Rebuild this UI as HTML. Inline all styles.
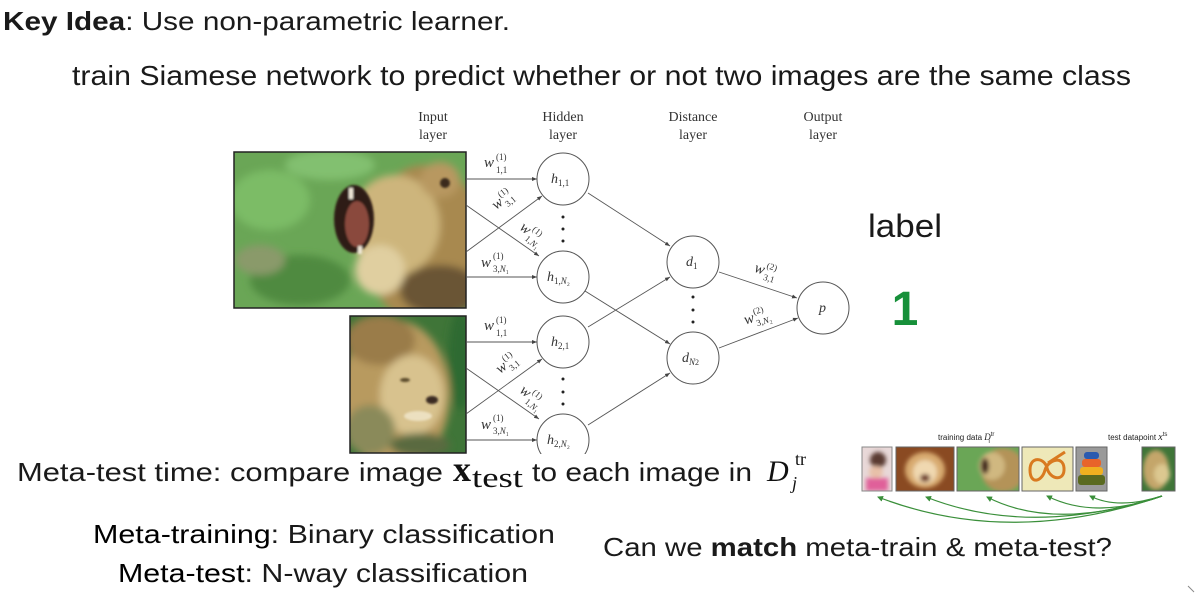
<!DOCTYPE html>
<html><head><meta charset="utf-8"><style>
html,body{margin:0;padding:0;background:#fff;}
svg{display:block;}
.s{font-family:"Liberation Sans",sans-serif;fill:#1a1a1a;}
.m{font-family:"Liberation Serif",serif;fill:#333;}
.mi{font-family:"Liberation Serif",serif;font-style:italic;fill:#333;}
</style></head><body>
<svg width="1198" height="593" viewBox="0 0 1198 593" xmlns="http://www.w3.org/2000/svg">
<defs>
<marker id="a" markerWidth="6" markerHeight="6" refX="5" refY="3" orient="auto" markerUnits="userSpaceOnUse"><path d="M0,1 L5,3 L0,5 z" fill="#444"/></marker>
<marker id="g" markerWidth="7" markerHeight="7" refX="5" refY="3.5" orient="auto" markerUnits="userSpaceOnUse"><path d="M0,0.5 L6,3.5 L0,6.5 z" fill="#3a8f3a"/></marker>
<filter id="b4"><feGaussianBlur stdDeviation="4"/></filter>
<filter id="b2"><feGaussianBlur stdDeviation="2"/></filter>
<filter id="b1"><feGaussianBlur stdDeviation="1"/></filter>
<clipPath id="c1"><rect x="234" y="152" width="232" height="156"/></clipPath>
<clipPath id="c2"><rect x="350" y="316" width="116" height="137"/></clipPath>
<clipPath id="t1"><rect x="862" y="447" width="30" height="44"/></clipPath>
<clipPath id="t2"><rect x="896" y="447" width="58" height="44"/></clipPath>
<clipPath id="t3"><rect x="957" y="447" width="62" height="44"/></clipPath>
<clipPath id="t5"><rect x="1076" y="447" width="31" height="44"/></clipPath>
<clipPath id="t6"><rect x="1142" y="447" width="33" height="44"/></clipPath>
</defs>

<!-- Top text -->
<text class="s" x="3" y="30" font-size="26" textLength="507" lengthAdjust="spacingAndGlyphs"><tspan font-weight="bold">Key Idea</tspan>: Use non-parametric learner.</text>
<text class="s" x="72" y="85" font-size="28" textLength="1059" lengthAdjust="spacingAndGlyphs">train Siamese network to predict whether or not two images are the same class</text>

<!-- Layer labels -->
<g class="m" font-size="14" text-anchor="middle" fill="#444">
<text x="433" y="121">Input</text><text x="433" y="139">layer</text>
<text x="563" y="121">Hidden</text><text x="563" y="139">layer</text>
<text x="693" y="121">Distance</text><text x="693" y="139">layer</text>
<text x="823" y="121">Output</text><text x="823" y="139">layer</text>
</g>

<!-- Lion image 1 -->
<g clip-path="url(#c1)">
<rect x="234" y="152" width="232" height="156" fill="#6aa656"/>
<g filter="url(#b4)">
<ellipse cx="270" cy="200" rx="40" ry="30" fill="#7cbc66"/>
<ellipse cx="300" cy="280" rx="50" ry="25" fill="#4f8a40"/>
<ellipse cx="260" cy="260" rx="25" ry="15" fill="#8a9a6a"/>
<ellipse cx="330" cy="165" rx="45" ry="15" fill="#82c070"/>
<ellipse cx="425" cy="245" rx="60" ry="80" fill="#a8894f"/>
<ellipse cx="395" cy="225" rx="45" ry="50" fill="#cdb57c"/>
<ellipse cx="440" cy="180" rx="20" ry="18" fill="#b89860"/>
<ellipse cx="440" cy="290" rx="40" ry="25" fill="#6a5535"/>
<ellipse cx="380" cy="270" rx="25" ry="25" fill="#e0cfa0"/>
</g>
<g filter="url(#b1)">
<ellipse cx="354" cy="219" rx="20" ry="34" fill="#2e1a14"/>
<ellipse cx="357" cy="224" rx="12" ry="23" fill="#8a4a3e"/>
<ellipse cx="445" cy="183" rx="5" ry="5" fill="#3a2a1a"/>
<rect x="349" y="188" width="4" height="11" fill="#f0e8d8"/>
<rect x="358" y="246" width="4" height="8" fill="#f0e8d8"/>
</g>
</g>
<rect x="234" y="152" width="232" height="156" fill="none" stroke="#222" stroke-width="1.5"/>

<!-- Lion image 2 -->
<g clip-path="url(#c2)">
<rect x="350" y="316" width="116" height="137" fill="#3f7538"/>
<g filter="url(#b4)">
<ellipse cx="395" cy="395" rx="55" ry="75" fill="#b89a5e"/>
<ellipse cx="380" cy="340" rx="35" ry="25" fill="#9a7c48"/>
<ellipse cx="412" cy="395" rx="32" ry="40" fill="#d8c28e"/>
<ellipse cx="370" cy="430" rx="25" ry="25" fill="#8a8a5a"/>
<ellipse cx="460" cy="360" rx="12" ry="50" fill="#2f6a30"/>
<ellipse cx="420" cy="445" rx="30" ry="12" fill="#5a6a40"/>
</g>
<g filter="url(#b1)">
<ellipse cx="432" cy="400" rx="6" ry="4" fill="#3a2a20"/>
<ellipse cx="418" cy="416" rx="14" ry="5" fill="#ece0c0"/>
<ellipse cx="405" cy="380" rx="5" ry="2" fill="#5a4a2a"/>
</g>
</g>
<rect x="350" y="316" width="116" height="137" fill="none" stroke="#222" stroke-width="1.5"/>

<!-- Edges -->
<g stroke="#555" stroke-width="0.9" fill="none" marker-end="url(#a)">
<line x1="466" y1="179" x2="537" y2="179"/>
<line x1="466" y1="205" x2="539" y2="256"/>
<line x1="466" y1="252" x2="542" y2="196"/>
<line x1="466" y1="277" x2="537" y2="277"/>
<line x1="466" y1="342" x2="537" y2="342"/>
<line x1="466" y1="368" x2="539" y2="419"/>
<line x1="466" y1="414" x2="542" y2="359"/>
<line x1="466" y1="440" x2="537" y2="440"/>
<line x1="588" y1="193" x2="670" y2="246"/>
<line x1="585" y1="291" x2="670" y2="344"/>
<line x1="588" y1="327" x2="670" y2="277"/>
<line x1="588" y1="425" x2="670" y2="373"/>
<line x1="719" y1="272" x2="797" y2="298"/>
<line x1="719" y1="348" x2="798" y2="318"/>
</g>

<!-- Nodes -->
<g fill="#fff" stroke="#555" stroke-width="1">
<circle cx="563" cy="179" r="26"/>
<circle cx="563" cy="277" r="26"/>
<circle cx="563" cy="342" r="26"/>
<circle cx="563" cy="440" r="26"/>
<circle cx="693" cy="262" r="26"/>
<circle cx="693" cy="358" r="26"/>
<circle cx="823" cy="308" r="26"/>
</g>
<rect x="530" y="454" width="70" height="15" fill="#fff"/>

<!-- Node labels -->
<g class="mi" font-size="14">
<text x="551" y="183">h<tspan font-style="normal" font-size="9" dy="3">1,1</tspan></text>
<text x="547" y="281">h<tspan font-style="normal" font-size="9" dy="3">1,<tspan font-style="italic">N</tspan>₂</tspan></text>
<text x="551" y="346">h<tspan font-style="normal" font-size="9" dy="3">2,1</tspan></text>
<text x="547" y="444">h<tspan font-style="normal" font-size="9" dy="3">2,<tspan font-style="italic">N</tspan>₂</tspan></text>
<text x="686" y="266">d<tspan font-style="normal" font-size="9" dy="3">1</tspan></text>
<text x="682" y="362">d<tspan font-size="9" dy="3">N</tspan><tspan font-style="normal" font-size="8">2</tspan></text>
<text x="819" y="312">p</text>
</g>

<!-- Dots -->
<g fill="#222">
<circle cx="563" cy="217" r="1.5"/><circle cx="563" cy="229" r="1.5"/><circle cx="563" cy="241" r="1.5"/>
<circle cx="693" cy="297" r="1.5"/><circle cx="693" cy="310" r="1.5"/><circle cx="693" cy="322" r="1.5"/>
<circle cx="563" cy="379" r="1.5"/><circle cx="563" cy="392" r="1.5"/><circle cx="563" cy="404" r="1.5"/>
</g>

<!-- Weight labels -->
<g class="mi" font-size="15">
<text x="484" y="167">w<tspan font-style="normal" font-size="9" x="496" y="160">(1)</tspan><tspan font-style="normal" font-size="9" x="496" y="173">1,1</tspan></text>
<text x="481" y="267">w<tspan font-style="normal" font-size="9" x="493" y="259">(1)</tspan><tspan font-style="normal" font-size="9" x="493" y="272">3,<tspan font-style="italic">N</tspan>₁</tspan></text>
<text x="484" y="330">w<tspan font-style="normal" font-size="9" x="496" y="323">(1)</tspan><tspan font-style="normal" font-size="9" x="496" y="336">1,1</tspan></text>
<text x="481" y="429">w<tspan font-style="normal" font-size="9" x="493" y="421">(1)</tspan><tspan font-style="normal" font-size="9" x="493" y="434">3,<tspan font-style="italic">N</tspan>₁</tspan></text>
<g transform="translate(503,201) rotate(-38)"><text x="-11" y="3">w<tspan font-style="normal" font-size="9" x="0" y="-4">(1)</tspan><tspan font-style="normal" font-size="9" x="0" y="8">3,1</tspan></text></g>
<g transform="translate(530,234) rotate(40)"><text x="-12" y="3">w<tspan font-style="normal" font-size="9" x="-1" y="-4">(1)</tspan><tspan font-style="normal" font-size="9" x="-1" y="8">1,<tspan font-style="italic">N</tspan>₁</tspan></text></g>
<g transform="translate(507,365) rotate(-38)"><text x="-11" y="3">w<tspan font-style="normal" font-size="9" x="0" y="-4">(1)</tspan><tspan font-style="normal" font-size="9" x="0" y="8">3,1</tspan></text></g>
<g transform="translate(530,397) rotate(40)"><text x="-12" y="3">w<tspan font-style="normal" font-size="9" x="-1" y="-4">(1)</tspan><tspan font-style="normal" font-size="9" x="-1" y="8">1,<tspan font-style="italic">N</tspan>₁</tspan></text></g>
<g transform="translate(765,272) rotate(17)"><text x="-11" y="3">w<tspan font-style="normal" font-size="9" x="0" y="-4">(2)</tspan><tspan font-style="normal" font-size="9" x="0" y="8">3,1</tspan></text></g>
<g transform="translate(757,318) rotate(-17)"><text x="-13" y="3">w<tspan font-style="normal" font-size="9" x="-2" y="-4">(2)</tspan><tspan font-style="normal" font-size="9" x="-2" y="8">3,<tspan font-style="italic">N</tspan>₂</tspan></text></g>
</g>

<!-- label / 1 -->
<text class="s" x="868" y="237" font-size="32" textLength="74" lengthAdjust="spacingAndGlyphs">label</text>
<text x="905" y="325" font-family="Liberation Sans, sans-serif" font-weight="bold" font-size="48" fill="#17903a" text-anchor="middle">1</text>

<!-- Meta-test time line -->
<text class="s" x="17" y="481" font-size="26" textLength="426" lengthAdjust="spacingAndGlyphs">Meta-test time: compare image</text>
<text x="453" y="481" font-family="Liberation Serif, serif" font-weight="bold" font-size="36" fill="#111">x</text>
<text x="472" y="487" font-family="Liberation Serif, serif" font-size="28" fill="#111" textLength="51" lengthAdjust="spacingAndGlyphs">test</text>
<text class="s" x="532" y="481" font-size="26" textLength="220" lengthAdjust="spacingAndGlyphs">to each image in</text>
<text x="767" y="481" font-family="Liberation Serif, serif" font-style="italic" font-size="30" fill="#111">D</text>
<text x="795" y="465" font-family="Liberation Serif, serif" font-size="18" fill="#111">tr</text>
<text x="792" y="489" font-family="Liberation Serif, serif" font-style="italic" font-size="18" fill="#111">j</text>

<text class="s" x="93" y="543" font-size="26" textLength="462" lengthAdjust="spacingAndGlyphs"><tspan fill="#000">Meta-training</tspan>: Binary classification</text>
<text class="s" x="118" y="582" font-size="26" textLength="410" lengthAdjust="spacingAndGlyphs"><tspan fill="#000">Meta-test</tspan>: N-way classification</text>
<text class="s" x="603" y="556" font-size="26" textLength="509" lengthAdjust="spacingAndGlyphs">Can we <tspan font-weight="bold">match</tspan> meta-train &amp; meta-test?</text>

<!-- Thumbnails -->
<text x="938" y="440" font-family="Liberation Sans, sans-serif" font-size="8" fill="#222">training data <tspan font-family="Liberation Serif, serif" font-style="italic" font-size="9">D</tspan><tspan font-size="6" dy="-4">tr</tspan><tspan font-size="6" dy="7" dx="-6">i</tspan></text>
<text x="1108" y="440" font-family="Liberation Sans, sans-serif" font-size="8" fill="#222">test datapoint <tspan font-family="Liberation Serif, serif" font-style="italic" font-size="10">x</tspan><tspan font-size="6" dy="-4">ts</tspan></text>

<g clip-path="url(#t1)"><rect x="862" y="447" width="30" height="44" fill="#e8d8d8"/>
<g filter="url(#b2)"><ellipse cx="878" cy="460" rx="8" ry="8" fill="#5a3a30"/><ellipse cx="876" cy="472" rx="7" ry="6" fill="#e8c0a8"/><rect x="866" y="478" width="22" height="13" fill="#e0609a"/></g></g>
<rect x="862" y="447" width="30" height="44" fill="none" stroke="#888" stroke-width="1"/>
<g clip-path="url(#t2)"><rect x="896" y="447" width="58" height="44" fill="#8a4a22"/>
<g filter="url(#b2)"><ellipse cx="925" cy="470" rx="20" ry="18" fill="#d8aa70"/><ellipse cx="925" cy="472" rx="12" ry="12" fill="#f0d8b0"/><ellipse cx="925" cy="478" rx="5" ry="4" fill="#6a3020"/></g></g>
<rect x="896" y="447" width="58" height="44" fill="none" stroke="#666" stroke-width="1"/>
<g clip-path="url(#t3)"><rect x="957" y="447" width="62" height="44" fill="#6aa656"/>
<g filter="url(#b2)"><ellipse cx="1003" cy="470" rx="22" ry="22" fill="#b49358"/><ellipse cx="992" cy="466" rx="13" ry="14" fill="#d0b880"/><ellipse cx="985" cy="466" rx="4" ry="8" fill="#3a1e18"/></g></g>
<rect x="957" y="447" width="62" height="44" fill="none" stroke="#666" stroke-width="1"/>
<rect x="1022" y="447" width="51" height="44" fill="#eee8b8" stroke="#666" stroke-width="1"/>
<path d="M1030,470 C1030,455 1045,458 1047,468 C1050,480 1065,482 1064,468 C1063,455 1048,460 1045,470 C1042,482 1030,485 1030,470 Z M1048,463 L1065,452" fill="none" stroke="#d97a20" stroke-width="3"/>
<g clip-path="url(#t5)"><rect x="1076" y="447" width="31" height="44" fill="#9a9a9a"/>
<rect x="1084" y="452" width="15" height="7" rx="3" fill="#2a5ab0"/><rect x="1082" y="459" width="19" height="8" rx="3" fill="#e8642a"/><rect x="1080" y="467" width="23" height="8" rx="3" fill="#f0b020"/><rect x="1078" y="475" width="27" height="10" rx="3" fill="#5a6a20"/></g>
<rect x="1076" y="447" width="31" height="44" fill="none" stroke="#666" stroke-width="1"/>
<g clip-path="url(#t6)"><rect x="1142" y="447" width="33" height="44" fill="#3f7538"/>
<g filter="url(#b2)"><ellipse cx="1156" cy="470" rx="13" ry="20" fill="#c4a66a"/><ellipse cx="1162" cy="474" rx="8" ry="10" fill="#dcc890"/></g></g>
<rect x="1142" y="447" width="33" height="44" fill="none" stroke="#666" stroke-width="1"/>

<!-- Green arrows -->
<g fill="none" stroke="#3a8f3a" stroke-width="1.2" marker-end="url(#g)">
<path d="M1162,496 Q1010,548 878,497"/>
<path d="M1162,496 Q1030,538 926,497"/>
<path d="M1162,496 Q1055,532 987,497"/>
<path d="M1162,496 Q1095,520 1047,496"/>
<path d="M1162,496 Q1118,510 1090,496"/>
</g>

<!-- corner tick -->
<line x1="1188" y1="586" x2="1194" y2="592" stroke="#888" stroke-width="1"/>
</svg>
</body></html>
